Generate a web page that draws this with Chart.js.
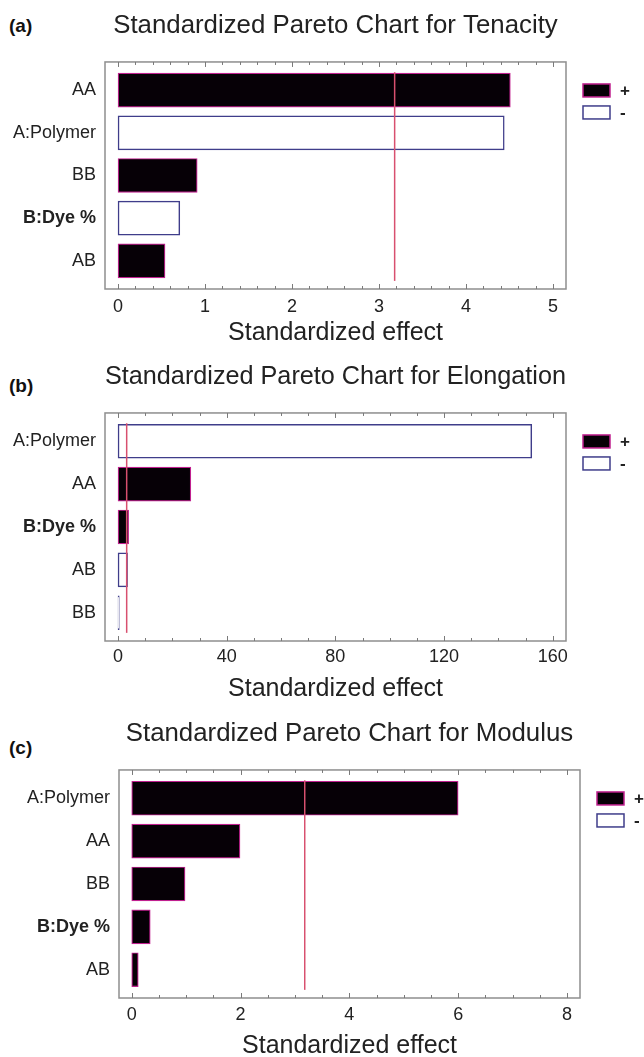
<!DOCTYPE html>
<html>
<head>
<meta charset="utf-8">
<script src="https://cdn.jsdelivr.net/npm/chart.js@4.4.1/dist/chart.umd.min.js"></script>
<style>
  html, body { margin: 0; padding: 0; background: #fff; overflow: hidden; }
  body { width: 644px; height: 1057px; position: relative; font-family: "Liberation Sans", Arial, sans-serif; }
  canvas { position: absolute; left: 0; }
  .tag { position: absolute; left: 9px; font-weight: bold; font-size: 19px; line-height: 20px; color: #111; }
</style>
</head>
<body>
<div class="tag" style="top:16px">(a)</div>
<div class="tag" style="top:376px">(b)</div>
<div class="tag" style="top:738px">(c)</div>
<canvas id="tenacity"></canvas>
<canvas id="elongation"></canvas>
<canvas id="modulus"></canvas>
<script>
// data
const tenacityLabels = ['AA', 'A:Polymer', 'BB', 'B:Dye %', 'AB']
const tenacityEffects = [4.51, 4.44, 0.91, 0.71, 0.54]
const tenacitySigns = ['+', '-', '+', '-', '+']
const tenacityTicks = [0, 1, 2, 3, 4, 5]

const elongationLabels = ['A:Polymer', 'AA', 'B:Dye %', 'AB', 'BB']
const elongationEffects = [152.3, 26.8, 3.9, 3.5, 0.45]
const elongationSigns = ['-', '+', '+', '-', '-']
const elongationTicks = [0, 40, 80, 120, 160]

const modulusLabels = ['A:Polymer', 'AA', 'BB', 'B:Dye %', 'AB']
const modulusEffects = [6.0, 1.99, 0.98, 0.34, 0.12]
const modulusSigns = ['+', '+', '+', '+', '+']
const modulusTicks = [0, 2, 4, 6, 8]

const criticalValue = 3.18
const legendLabels = ['+', '-']

const FONT = '"Liberation Sans", Arial, sans-serif'

// frame, inward ticks, critical line and the small +/- legend
const paretoDecor = {
    id: 'paretoDecor',
    afterDatasetsDraw(chart, args, opts) {
        const { ctx, chartArea: area } = chart
        const x = chart.scales.x
        const y = chart.scales.y
        ctx.save()

        const cx = x.getPixelForValue(opts.critical)
        ctx.strokeStyle = '#d8506f'
        ctx.lineWidth = 1.5
        ctx.beginPath()
        ctx.moveTo(cx, y.getPixelForValue(-0.42))
        ctx.lineTo(cx, y.getPixelForValue(4.47))
        ctx.stroke()

        ctx.strokeStyle = '#8e8e8e'
        ctx.lineWidth = 1.5
        ctx.strokeRect(area.left, area.top, area.width, area.height)

        ctx.strokeStyle = '#7a7a7a'
        ctx.lineWidth = 1
        const n = Math.round(opts.tickMax / opts.minorStep)
        for (let i = 0; i <= n; i++) {
            const px = Math.round(x.getPixelForValue(i * opts.minorStep)) + 0.5
            const len = i % opts.majorEvery === 0 ? 5 : 3
            ctx.beginPath()
            ctx.moveTo(px, area.top)
            ctx.lineTo(px, area.top + len)
            ctx.moveTo(px, area.bottom)
            ctx.lineTo(px, area.bottom - len)
            ctx.stroke()
        }

        chart.data.datasets.forEach((ds, i) => {
            const lx = area.right + 17
            const ly = area.top + 22 + i * 22
            ctx.fillStyle = ds.backgroundColor
            ctx.fillRect(lx, ly, 27, 13)
            ctx.strokeStyle = ds.borderColor
            ctx.lineWidth = 1.5
            ctx.strokeRect(lx, ly, 27, 13)
            ctx.fillStyle = '#222'
            ctx.font = 'bold 17px ' + FONT
            ctx.textBaseline = 'middle'
            ctx.fillText(ds.label, lx + 37, ly + 7)
        })
        ctx.restore()
    }
}

function paretoChart(id, p, labels, effects, signs, ticks) {
    const canvas = document.getElementById(id)
    const h = p.axisTitleY + 15 - p.top
    canvas.width = 644
    canvas.height = h
    canvas.style.top = p.top + 'px'

    const plus = []
    const minus = []
    effects.forEach((v, i) => (signs[i] === '+' ? plus : minus).push({ x: v, y: i }))

    const barStyle = { grouped: false, barThickness: 34, maxBarThickness: 34, borderSkipped: false }
    const titleTop = p.titleY - p.top - 15.5

    return new Chart(canvas, {
        type: 'bar',
        data: {
            datasets: [
                { label: legendLabels[0], data: plus, backgroundColor: '#060006', borderColor: '#c0208f', borderWidth: 1.2, ...barStyle },
                { label: legendLabels[1], data: minus, backgroundColor: '#ffffff', borderColor: '#3f3d8a', borderWidth: 1.5, ...barStyle }
            ]
        },
        options: {
            indexAxis: 'y',
            responsive: false,
            animation: false,
            layout: { padding: { left: 0, right: 644 - p.boxRight, top: 0, bottom: 0 } },
            plugins: {
                legend: { display: false },
                tooltip: { enabled: false },
                title: {
                    display: true,
                    text: p.title,
                    fullSize: false,
                    color: '#222',
                    font: { size: 25.8, weight: 'normal', family: FONT },
                    padding: { top: titleTop, bottom: p.boxTop - p.top - 31 - titleTop }
                },
                paretoDecor: { critical: criticalValue, minorStep: p.minorStep, majorEvery: p.majorEvery, tickMax: ticks[ticks.length - 1] }
            },
            scales: {
                x: {
                    type: 'linear',
                    min: p.min,
                    max: p.max,
                    grid: { display: false, drawTicks: false },
                    border: { display: false },
                    afterBuildTicks: s => { s.ticks = ticks.map(v => ({ value: v })) },
                    ticks: { padding: p.tickY - p.boxBottom - 10.8, color: '#222', font: { size: 18, family: FONT } },
                    title: { display: true, text: 'Standardized effect', color: '#222', font: { size: 25, family: FONT }, padding: { top: 0, bottom: 0 } },
                    afterFit: s => { s.height = h - (p.boxBottom - p.top) }
                },
                y: {
                    type: 'linear',
                    offset: false,
                    reverse: true,
                    min: -0.66,
                    max: labels.length - 1 + 0.66,
                    grid: { display: false, drawTicks: false, offset: false },
                    border: { display: false },
                    afterBuildTicks: s => { s.ticks = labels.map((l, i) => ({ value: i })) },
                    ticks: {
                        padding: 9,
                        color: '#222',
                        font: ctx => ({ size: 18, family: FONT, weight: ctx.tick && String(labels[ctx.tick.value]).startsWith('B:') ? 'bold' : 'normal' }),
                        callback: v => labels[v]
                    },
                    afterFit: s => { s.width = p.boxLeft }
                }
            }
        },
        plugins: [paretoDecor]
    })
}

paretoChart('tenacity', {
    title: 'Standardized Pareto Chart for Tenacity', top: 0, titleY: 26,
    boxTop: 62, boxBottom: 289, boxLeft: 105, boxRight: 566, tickY: 307, axisTitleY: 333,
    min: -0.15, max: 5.15, minorStep: 0.2, majorEvery: 5
}, tenacityLabels, tenacityEffects, tenacitySigns, tenacityTicks)

paretoChart('elongation', {
    title: 'Standardized Pareto Chart for Elongation', top: 350, titleY: 377,
    boxTop: 413, boxBottom: 641, boxLeft: 105, boxRight: 566, tickY: 657, axisTitleY: 689,
    min: -4.8, max: 164.9, minorStep: 10, majorEvery: 4
}, elongationLabels, elongationEffects, elongationSigns, elongationTicks)

paretoChart('modulus', {
    title: 'Standardized Pareto Chart for Modulus', top: 706, titleY: 734,
    boxTop: 770, boxBottom: 998, boxLeft: 119, boxRight: 580, tickY: 1015, axisTitleY: 1046,
    min: -0.234, max: 8.24, minorStep: 0.5, majorEvery: 4
}, modulusLabels, modulusEffects, modulusSigns, modulusTicks)
</script>
</body>
</html>
